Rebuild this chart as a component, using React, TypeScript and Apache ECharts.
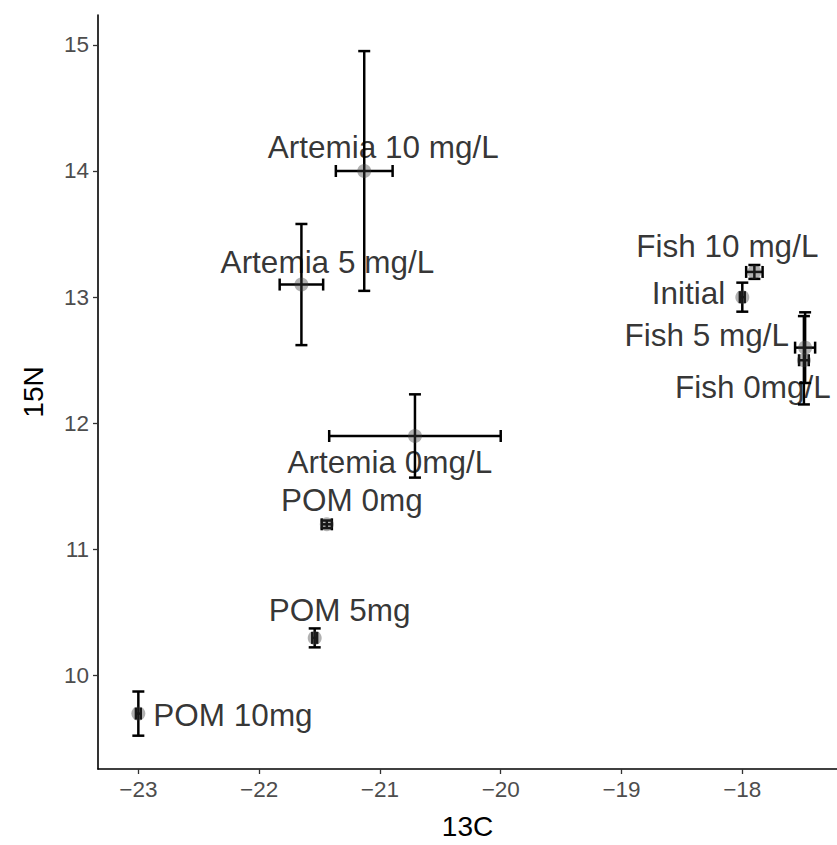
import React, { useEffect, useRef } from "react";
import * as echarts from "echarts";

const names = [
  "Artemia 0mg/L",
  "Artemia 5 mg/L",
  "Artemia 10 mg/L",
  "Fish 0mg/L",
  "Fish 5 mg/L",
  "Fish 10 mg/L",
  "Initial",
  "POM 0mg",
  "POM 5mg",
  "POM 10mg",
];
const c13 = [-20.71, -21.65, -21.13, -17.49, -17.48, -17.9, -18.0, -21.44, -21.54, -23.0];
const n15 = [11.9, 13.1, 14.0, 12.5, 12.6, 13.2, 13.0, 11.2, 10.3, 9.7];
const c13Se = [0.71, 0.18, 0.235, 0.04, 0.083, 0.068, 0.02, 0.042, 0.02, 0.02];
const n15Se = [0.33, 0.48, 0.95, 0.35, 0.28, 0.055, 0.115, 0.03, 0.075, 0.175];

const xTicks = [-23, -22, -21, -20, -19, -18];
const yTicks = [10, 11, 12, 13, 14, 15];

// label layout (pixel offsets from the point, alignment)
const labelLayout: { offset: [number, number]; align: string }[] = [
  { offset: [-25, 26], align: "center" },
  { offset: [26, -23], align: "center" },
  { offset: [19, -24], align: "center" },
  { offset: [-51, 27], align: "center" },
  { offset: [-16, -13], align: "right" },
  { offset: [-27, -26], align: "center" },
  { offset: [-17, -4], align: "right" },
  { offset: [25, -24], align: "center" },
  { offset: [25, -28], align: "center" },
  { offset: [15, 1], align: "left" },
];

const FONT = "'Liberation Sans', Arial, sans-serif";

export default function App() {
  const ref = useRef<HTMLDivElement>(null);
  useEffect(() => {
    if (!ref.current) return;
    const chart = echarts.init(ref.current, undefined, { renderer: "svg" });
    const errData = names.map((n, i) => [c13[i], n15[i], c13Se[i], n15Se[i]]);
    const ptData = names.map((n, i) => ({
      name: n,
      value: [c13[i], n15[i]],
      label: {
        show: true,
        formatter: n,
        position: "inside",
        offset: labelLayout[i].offset,
        align: labelLayout[i].align,
        verticalAlign: "middle",
      },
    }));
    const minus = (v: number) => String(v).replace("-", "\u2212");
    chart.setOption({
      animation: false,
      backgroundColor: "#ffffff",
      grid: { left: 98, right: 0, top: 15, bottom: 76, containLabel: false },
      xAxis: {
        type: "value",
        min: -23.334,
        max: -17.216,
        name: "13C",
        nameLocation: "middle",
        nameGap: 43,
        nameTextStyle: { fontFamily: FONT, fontSize: 28, color: "#000" },
        axisLine: { show: true, onZero: false, lineStyle: { color: "#000", width: 1.6 } },
        axisTick: { show: true, length: 5, customValues: xTicks, lineStyle: { color: "#333", width: 1.3 } },
        axisLabel: {
          customValues: xTicks,
          formatter: (v: number) => minus(v),
          fontFamily: FONT,
          fontSize: 22.5,
          color: "#4d4d4d",
          margin: 9,
        },
        splitLine: { show: false },
      },
      yAxis: {
        type: "value",
        min: 9.261,
        max: 15.236,
        name: "15N",
        nameLocation: "middle",
        nameGap: 51,
        nameTextStyle: { fontFamily: FONT, fontSize: 28, color: "#000" },
        axisLine: { show: true, onZero: false, lineStyle: { color: "#000", width: 1.6 } },
        axisTick: { show: true, length: 5, customValues: yTicks, lineStyle: { color: "#333", width: 1.3 } },
        axisLabel: {
          customValues: yTicks,
          fontFamily: FONT,
          fontSize: 22.5,
          color: "#4d4d4d",
          margin: 9,
        },
        splitLine: { show: false },
      },
      series: [
        {
          type: "custom",
          data: errData,
          z: 2,
          renderItem: (params: any, api: any) => {
            const x = api.value(0);
            const y = api.value(1);
            const xe = api.value(2);
            const ye = api.value(3);
            const c = api.coord([x, y]);
            const l = api.coord([x - xe, y]);
            const r = api.coord([x + xe, y]);
            const t = api.coord([x, y + ye]);
            const b = api.coord([x, y - ye]);
            const cap = 6;
            const style = { stroke: "#000", lineWidth: 2.5, fill: "none" };
            const seg = (x1: number, y1: number, x2: number, y2: number) => ({
              type: "line",
              shape: { x1, y1, x2, y2 },
              style,
            });
            return {
              type: "group",
              children: [
                seg(c[0], t[1], c[0], b[1]),
                seg(c[0] - cap, t[1], c[0] + cap, t[1]),
                seg(c[0] - cap, b[1], c[0] + cap, b[1]),
                seg(l[0], c[1], r[0], c[1]),
                seg(l[0], c[1] - cap, l[0], c[1] + cap),
                seg(r[0], c[1] - cap, r[0], c[1] + cap),
              ],
            };
          },
        },
        {
          type: "scatter",
          z: 3,
          symbol: "circle",
          symbolSize: 14,
          itemStyle: { color: "rgba(60,60,60,0.5)", borderWidth: 0 },
          label: {
            fontFamily: FONT,
            fontSize: 31.5,
            color: "#000",
          },
          emphasis: { disabled: true },
          data: ptData,
        },
      ],
    });
    return () => chart.dispose();
  }, []);
  return (
    <div
      ref={ref}
      style={{ position: "absolute", left: 0, top: 0, width: 837, height: 845 }}
    />
  );
}
